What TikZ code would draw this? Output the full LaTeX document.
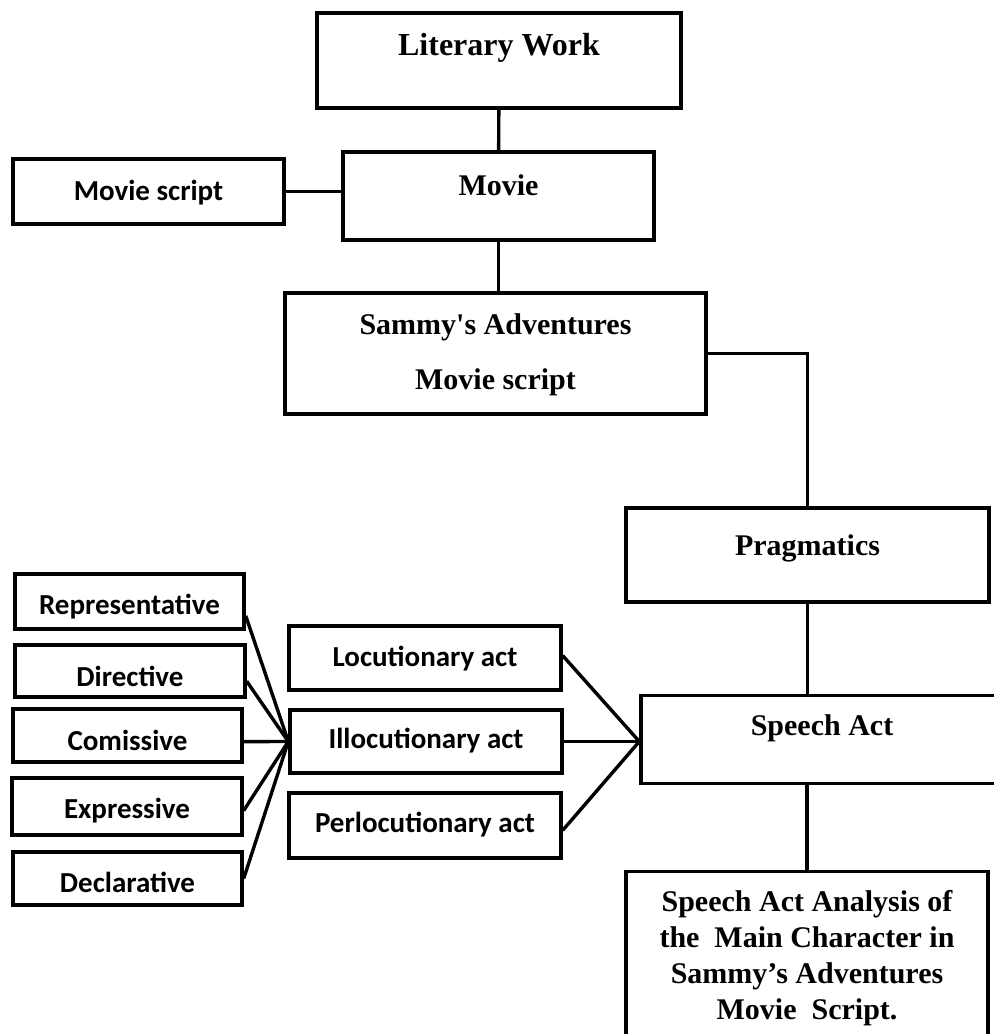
\documentclass[tikz,border=0pt]{standalone}
\usepackage{fontspec}
\setmainfont{Liberation Serif}
\newfontfamily\calfont{Carlito}
\usetikzlibrary{positioning}

\tikzset{
  mainbox/.style={draw, line width=1.7pt, inner sep=0pt,
                  font=\bfseries\fontsize{15}{18}\selectfont},
  sidebox/.style={draw, line width=1.7pt, inner sep=0pt,
                  font=\calfont\bfseries\fontsize{14.5}{17}\selectfont},
  link/.style={line width=1.7pt},
  textlift/.style={text height=0pt, text depth=#1},
  textdrop/.style={text height=#1, text depth=0pt}
}

\begin{document}
\begin{tikzpicture}[x=0.5pt, y=-0.5pt]

  \useasboundingbox (0,0) rectangle (994,1034);
  \clip (0,0) rectangle (994,1034);

  % Top chain
  \node[mainbox, textlift=5.5pt, minimum width=182pt, minimum height=47.5pt,
        font=\bfseries\fontsize{16}{18}\selectfont]
        (lw) at (499,60.5) {Literary Work};
  \node[mainbox, textlift=1pt, minimum width=155.5pt, minimum height=44pt]
        (movie) at (498.5,196) {Movie};
  \node[sidebox, textdrop=8.5pt, minimum width=135.5pt, minimum height=32.5pt]
        (ms) at (148.5,191.5) {Movie script};
  \node[mainbox, align=center, text height=37.5pt, text depth=2pt,
        font=\bfseries\fontsize{15}{27.5}\selectfont,
        minimum width=210.5pt, minimum height=60.5pt]
        (sammy) at (495.5,353.5) {Sammy\textquotesingle s Adventures\\Movie script};

  % Right column
  \node[mainbox, textlift=0pt, minimum width=181.5pt, minimum height=47pt]
        (prag) at (807.5,555) {Pragmatics};
  \node[mainbox, textlift=4pt, minimum width=181pt, minimum height=44pt]
        (speech) at (822,739.5) {Speech Act};
  \node[mainbox, anchor=north, align=center, inner ysep=10pt,
        text height=64pt, text depth=60pt, minimum width=181pt]
        (final) at (807,870) {Speech Act Analysis of\\the\ \ Main Character in\\Sammy’s Adventures\\Movie\ \ Script.};

  % Speech act types
  \node[sidebox, textdrop=8pt, minimum width=136pt, minimum height=32pt]
        (loc) at (425,658) {Locutionary act};
  \node[sidebox, textdrop=6.5pt, minimum width=136pt, minimum height=31.5pt]
        (ill) at (426,741.5) {Illocutionary act};
  \node[sidebox, textdrop=6.5pt, minimum width=136pt, minimum height=32.5pt]
        (per) at (425,825.5) {Perlocutionary act};

  % Illocutionary classes
  \node[sidebox, textdrop=12.5pt, minimum width=114.5pt, minimum height=27.5pt]
        (rep) at (129.5,601.5) {Representative};
  \node[sidebox, textdrop=15pt, minimum width=115pt, minimum height=26pt]
        (dir) at (130,671) {Directive};
  \node[sidebox, textdrop=14.5pt, minimum width=114.5pt, minimum height=26.5pt]
        (com) at (127.5,735.5) {Comissive};
  \node[sidebox, textdrop=11.5pt, minimum width=115pt, minimum height=28.5pt]
        (exp) at (127,806.5) {Expressive};
  \node[sidebox, textdrop=13.5pt, minimum width=114.5pt, minimum height=26.5pt]
        (dec) at (127.5,878.5) {Declarative};

  % Connectors
  \draw[link] (lw) -- (movie);
  \draw[link] (ms.east) -- (ms.east -| movie.west);
  \draw[link] (movie.south) -- (movie.south |- sammy.north);
  \draw[link] (sammy.east) -| (prag.north);
  \draw[link] (prag.south) -- (prag.south |- speech.north);
  \draw[link] (speech.south -| final.north) -- (final.north);

  \foreach \n/\a in {rep/-7, dir/-5, com/-3, exp/-2, dec/0}
    \draw[link] (\n.\a) -- (ill.west);
  \foreach \n/\a in {loc/1, ill/0, per/-2}
    \draw[link] (\n.\a) -- (speech.west |- ill.east);

\end{tikzpicture}
\end{document}
